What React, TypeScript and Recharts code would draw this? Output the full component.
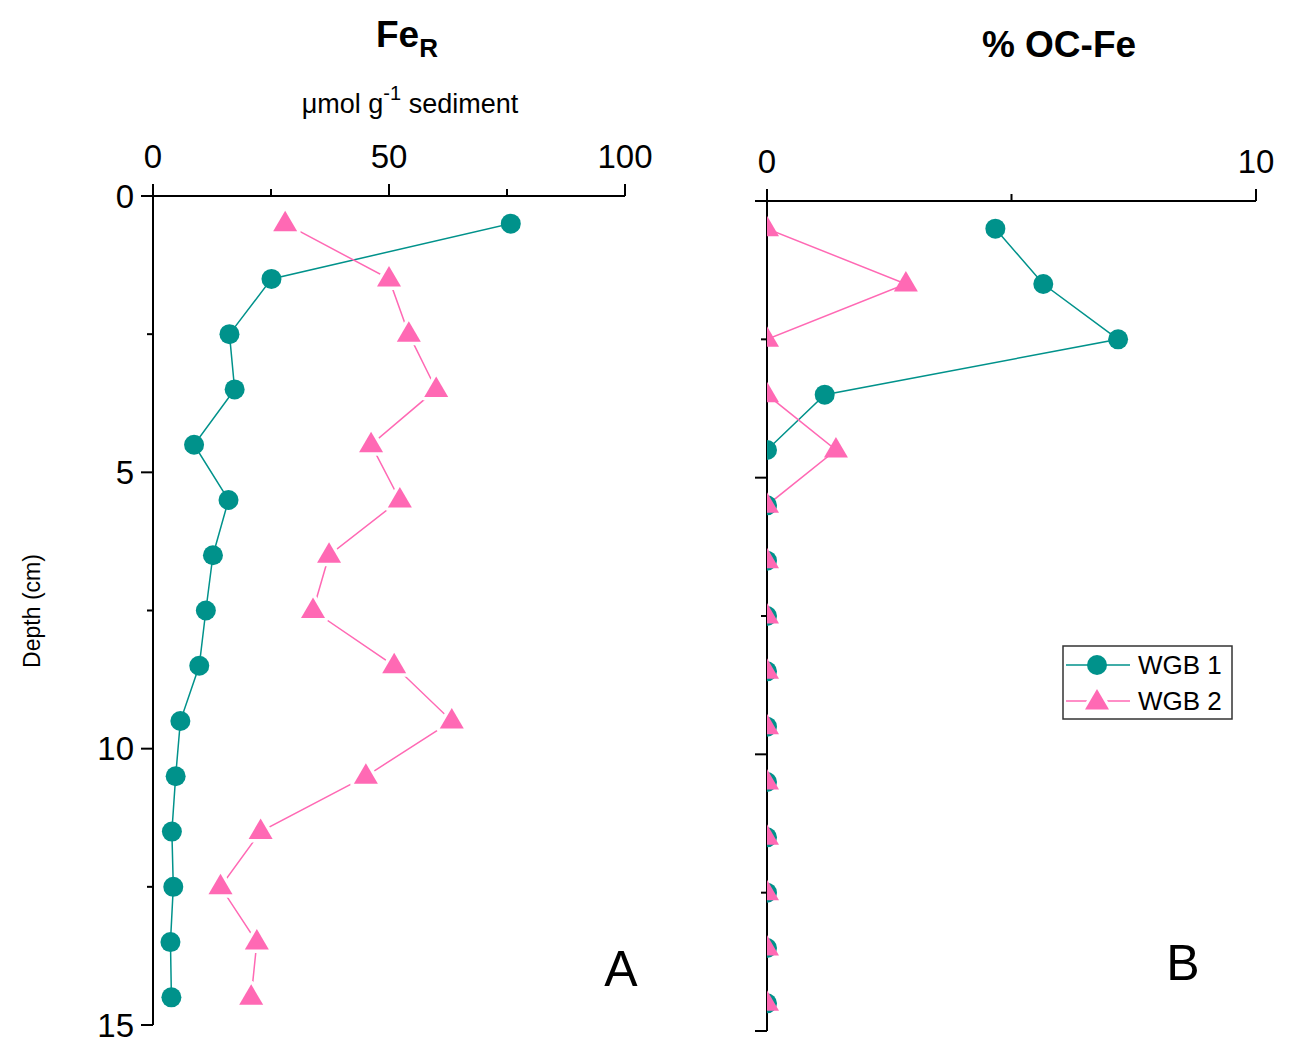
import React from "react";
import { Legend, Line, LineChart, XAxis, YAxis } from "recharts";

// depth midpoints (cm)
const depths = [0.5, 1.5, 2.5, 3.5, 4.5, 5.5, 6.5, 7.5, 8.5, 9.5, 10.5, 11.5, 12.5, 13.5, 14.5];

// Fe_R, umol g-1 sediment
const feR_wgb1 = [75.8, 25.1, 16.2, 17.3, 8.7, 16.0, 12.7, 11.2, 9.8, 5.8, 4.8, 4.0, 4.3, 3.7, 3.9];
const feR_wgb2 = [28.0, 50.0, 54.2, 60.0, 46.2, 52.3, 37.3, 33.9, 51.1, 63.3, 45.1, 22.8, 14.3, 22.0, 20.8];

// % OC-Fe
const oc_wgb1 = [4.67, 5.65, 7.18, 1.18, 0, 0, 0, 0, 0, 0, 0, 0, 0, 0, 0];
const oc_wgb2 = [0, 2.84, 0, 0, 1.41, 0, 0, 0, 0, 0, 0, 0, 0, 0, 0];

const depthTicks = [0, 2.5, 5, 7.5, 10, 12.5, 15];
const feTicks = [0, 25, 50, 75, 100];
const ocTicks = [0, 5, 10];

const seriesNames = ["WGB 1", "WGB 2"];

const TEAL = "#00928b";
const PINK = "#ff69b4";
const FONT = "'Liberation Sans', Arial, sans-serif";

const data = depths.map((d, i) => ({
  depth: d,
  fe1: feR_wgb1[i],
  fe2: feR_wgb2[i],
  oc1: oc_wgb1[i],
  oc2: oc_wgb2[i],
}));

const makeLeftTick = (showLabels: boolean) => (props: any) => {
  const { x, y, payload } = props;
  const major = payload.value % 5 === 0;
  const len = major ? 12 : 6;
  return (
    <g>
      <line x1={x} y1={y} x2={x - len} y2={y} stroke="#000" strokeWidth={2} />
      {showLabels && major && (
        <text x={x - 19} y={y} textAnchor="end" dominantBaseline="central" fontSize={33} fontFamily={FONT} fill="#000">
          {payload.value}
        </text>
      )}
    </g>
  );
};

const makeTopTick = (majorStep: number) => (props: any) => {
  const { x, y, payload } = props;
  const major = payload.value % majorStep === 0;
  const len = major ? 12 : 7;
  return (
    <g>
      <line x1={x} y1={y} x2={x} y2={y - len} stroke="#000" strokeWidth={2} />
      {major && (
        <text x={x} y={y - 28} textAnchor="middle" fontSize={33} fontFamily={FONT} fill="#000">
          {payload.value}
        </text>
      )}
    </g>
  );
};

const circleDot = (props: any) => {
  const { cx, cy, index } = props;
  if (cx == null || cy == null) return <g key={index} />;
  return <circle key={index} cx={cx} cy={cy} r={10} fill={TEAL} />;
};

const triangle = (cx: number, cy: number) => `${cx},${cy - 13} ${cx - 12},${cy + 7.5} ${cx + 12},${cy + 7.5}`;

const makeTriangleDot = (gap: boolean) => (props: any) => {
  const { cx, cy, index } = props;
  if (cx == null || cy == null) return <g key={index} />;
  return (
    <polygon
      key={index}
      points={triangle(cx, cy)}
      fill={PINK}
      stroke={gap ? "#fff" : "none"}
      strokeWidth={gap ? 7 : 0}
      strokeLinejoin="round"
      paintOrder="stroke"
    />
  );
};

function LegendBox({ payload }: any) {
  const items = payload || [];
  return (
    <svg width={172} height={76} style={{ display: "block" }}>
      <rect x={1} y={1} width={169} height={73} fill="#fff" stroke="#333" strokeWidth={1.5} />
      {items.map((p: any, i: number) => {
        const cy = 20 + i * 36;
        const color = i === 0 ? TEAL : PINK;
        return (
          <g key={p.value}>
            <line x1={4} y1={cy} x2={68} y2={cy} stroke={color} strokeWidth={1.5} />
            {i === 0 ? (
              <circle cx={35} cy={cy} r={10} fill={TEAL} />
            ) : (
              <polygon points={triangle(35, cy + 1)} fill={PINK} stroke="#fff" strokeWidth={6} paintOrder="stroke" />
            )}
            <text x={76} y={cy} dominantBaseline="central" fontSize={26} fontFamily={FONT} fill="#000">
              {p.value}
            </text>
          </g>
        );
      })}
    </svg>
  );
}

export default function App() {
  return (
    <div style={{ position: "absolute", left: 0, top: 0, width: 1290, height: 1058, background: "#fff", fontFamily: FONT }}>
      <div style={{ position: "absolute", left: 0, top: 0 }}>
        <LineChart
          width={700}
          height={1058}
          data={data}
          layout="vertical"
          margin={{ top: 156, right: 75, bottom: 33, left: 93 }}
        >
          <XAxis
            xAxisId="fe"
            type="number"
            orientation="top"
            domain={[0, 100]}
            ticks={feTicks}
            interval={0}
            height={40}
            tickSize={0}
            tickMargin={0}
            tick={makeTopTick(50)}
            axisLine={{ stroke: "#000", strokeWidth: 2 }}
          />
          <YAxis
            yAxisId="d"
            type="number"
            dataKey="depth"
            domain={[0, 15]}
            ticks={depthTicks}
            interval={0}
            width={60}
            tickSize={0}
            tickMargin={0}
            tick={makeLeftTick(true)}
            axisLine={{ stroke: "#000", strokeWidth: 2 }}
          />
          <Line
            xAxisId="fe"
            yAxisId="d"
            dataKey="fe1"
            name={seriesNames[0]}
            stroke={TEAL}
            strokeWidth={1.5}
            dot={circleDot}
            activeDot={false}
            isAnimationActive={false}
          />
          <Line
            xAxisId="fe"
            yAxisId="d"
            dataKey="fe2"
            name={seriesNames[1]}
            stroke={PINK}
            strokeWidth={1.5}
            dot={makeTriangleDot(true)}
            activeDot={false}
            isAnimationActive={false}
          />
        </LineChart>
      </div>

      <div style={{ position: "absolute", left: 700, top: 0 }}>
        <LineChart
          width={590}
          height={1058}
          data={data}
          layout="vertical"
          margin={{ top: 161, right: 34, bottom: 27, left: 27 }}
        >
          <XAxis
            xAxisId="oc"
            type="number"
            orientation="top"
            domain={[0, 10]}
            ticks={ocTicks}
            interval={0}
            height={40}
            tickSize={0}
            tickMargin={0}
            allowDataOverflow
            tick={makeTopTick(10)}
            axisLine={{ stroke: "#000", strokeWidth: 2 }}
          />
          <YAxis
            yAxisId="d"
            type="number"
            dataKey="depth"
            domain={[0, 15]}
            ticks={depthTicks}
            interval={0}
            width={40}
            tickSize={0}
            tickMargin={0}
            tick={makeLeftTick(false)}
            axisLine={{ stroke: "#000", strokeWidth: 2 }}
          />
          <Legend
            layout="vertical"
            align="center"
            verticalAlign="middle"
            content={LegendBox}
            wrapperStyle={{ left: 362, top: 645, width: 172, height: 76 }}
          />
          <Line
            xAxisId="oc"
            yAxisId="d"
            dataKey="oc1"
            name={seriesNames[0]}
            stroke={TEAL}
            strokeWidth={1.5}
            dot={circleDot}
            activeDot={false}
            isAnimationActive={false}
          />
          <Line
            xAxisId="oc"
            yAxisId="d"
            dataKey="oc2"
            name={seriesNames[1]}
            stroke={PINK}
            strokeWidth={1.5}
            dot={makeTriangleDot(false)}
            activeDot={false}
            isAnimationActive={false}
          />
        </LineChart>
      </div>

      <svg width={1290} height={1058} style={{ position: "absolute", left: 0, top: 0, pointerEvents: "none" }}>
        <text x={407} y={47} textAnchor="middle" fontSize={37} fontWeight="bold" fontFamily={FONT} fill="#000">
          Fe
          <tspan fontSize={26} dy={10}>R</tspan>
        </text>
        <text x={410} y={113} textAnchor="middle" fontSize={27} fontFamily={FONT} fill="#000">
          μmol g
          <tspan fontSize={20} dy={-13}>-1</tspan>
          <tspan dy={13}> sediment</tspan>
        </text>
        <text x={1059} y={57} textAnchor="middle" fontSize={37} fontWeight="bold" fontFamily={FONT} fill="#000">
          % OC-Fe
        </text>
        <text
          x={0}
          y={0}
          transform="translate(40 611) rotate(-90)"
          textAnchor="middle"
          fontSize={23}
          fontFamily={FONT}
          fill="#000"
        >
          Depth (cm)
        </text>
        <text x={621} y={986} textAnchor="middle" fontSize={50} fontFamily={FONT} fill="#000">
          A
        </text>
        <text x={1183} y={980} textAnchor="middle" fontSize={50} fontFamily={FONT} fill="#000">
          B
        </text>
      </svg>
    </div>
  );
}
